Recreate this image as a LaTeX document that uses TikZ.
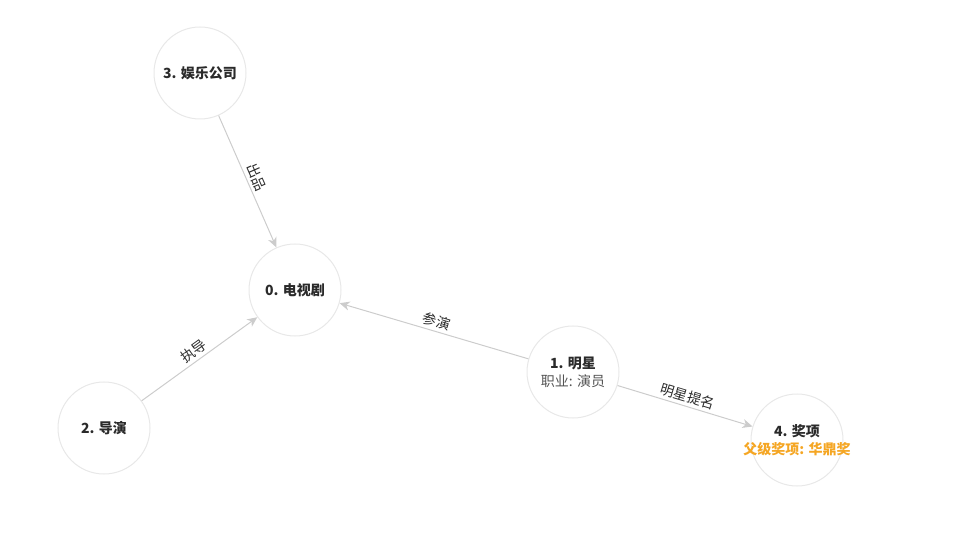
\documentclass[tikz,border=0pt]{standalone}
\usepackage{fontspec}
\setmainfont{Noto Sans CJK SC}
\usetikzlibrary{arrows.meta}
\definecolor{edgec}{HTML}{CCCCCC}
\definecolor{ringc}{HTML}{E8E8E8}
\definecolor{txtc}{HTML}{2A2A2A}
\definecolor{subc}{HTML}{555555}
\definecolor{orangec}{HTML}{F5A623}
\tikzset{
  ent/.style={circle, draw=ringc, line width=1pt, fill=white, minimum size=92pt, inner sep=0pt},
  enttext/.style={align=center, text=txtc, inner sep=0pt, font=\fontsize{14}{19}\selectfont},
  rel/.style={draw=edgec, line width=1pt, -{Stealth[length=10pt,width=9pt,inset=3pt]}},
  rlabel/.style={font=\fontsize{14}{15}\selectfont, text=txtc, sloped, inner sep=3pt},
}
\begin{document}
\begin{tikzpicture}[x=1pt,y=-1pt]
\useasboundingbox (0,0) rectangle (954,548);
\node[ent, label={[enttext]center:\textbf{0. 电视剧}}] (n0) at (295,290) {};
\node[ent, label={[enttext]center:\textbf{3. 娱乐公司}}] (n3) at (200,73) {};
\node[ent, label={[enttext]center:\textbf{2. 导演}}] (n2) at (104,428) {};
\node[ent, label={[enttext]center:{\textbf{1. 明星}\\[-1pt]{\color{subc}职业: 演员}}}] (n1) at (573,372) {};
\node[ent, label={[enttext]center:{\textbf{4. 奖项}\\[-1pt]{\color{orangec}\textbf{父级奖项: 华鼎奖}}}}] (n4) at (797,440) {};
\draw[rel] (n3) -- node[rlabel, above] {出品} (n0);
\draw[rel] (n2) -- node[rlabel, above] {执导} (n0);
\draw[rel] (n1) -- node[rlabel, above] {参演} (n0);
\draw[rel] (n1) -- node[rlabel, above] {明星提名} (n4);
\end{tikzpicture}
\end{document}
